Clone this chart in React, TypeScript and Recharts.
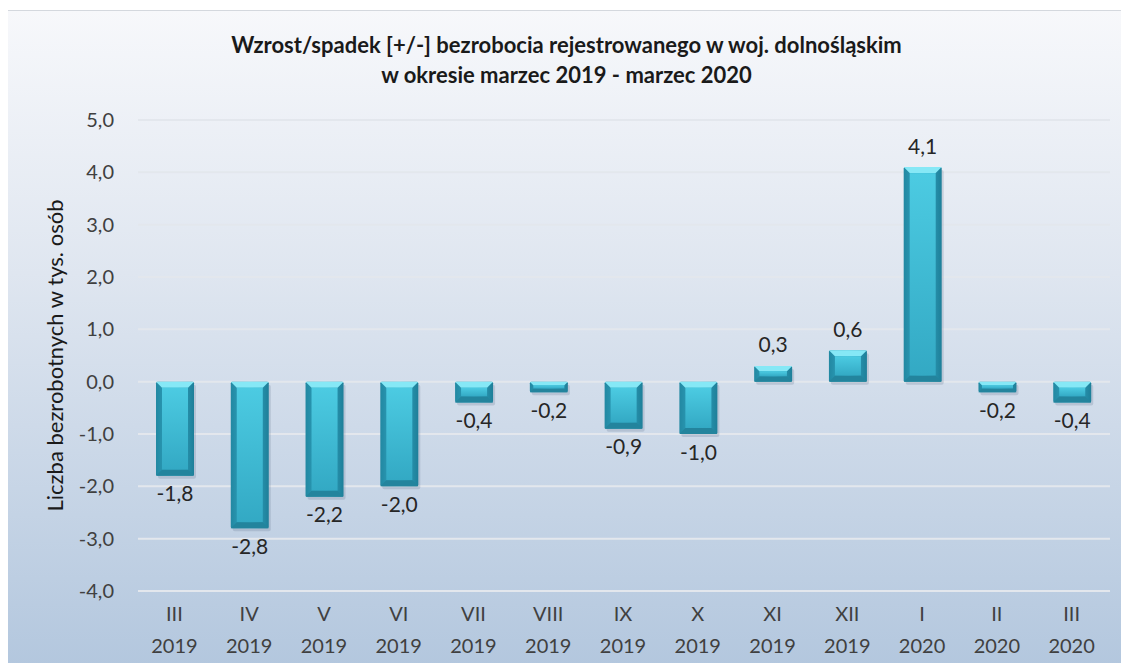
import { BarChart, Bar, XAxis, YAxis, CartesianGrid, LabelList } from "recharts";

// months (roman numerals) and years for the two-line category labels
const months = ["III", "IV", "V", "VI", "VII", "VIII", "IX", "X", "XI", "XII", "I", "II", "III"];
const years = ["2019", "2019", "2019", "2019", "2019", "2019", "2019", "2019", "2019", "2019", "2020", "2020", "2020"];
// change in thousands of people
const changes = [-1.8, -2.8, -2.2, -2.0, -0.4, -0.2, -0.9, -1.0, 0.3, 0.6, 4.1, -0.2, -0.4];
const yTicks = [-4, -3, -2, -1, 0, 1, 2, 3, 4, 5];

const data = changes.map((v, i) => ({ key: i, month: months[i], year: years[i], value: v }));

const FONT = "Lato, 'Open Sans', sans-serif";
const fmt = (v: number) => v.toFixed(1).replace(".", ",");

const BevelBar = (props: any) => {
    const { x, y, width, height } = props;
    const top = Math.min(y, y + height);
    const h = Math.abs(height);
    if (!h) return null;
    const b = Math.min(6, h / 3);
    return (
        <g>
            <rect x={x + 2} y={top + 3} width={width} height={h} fill="#5a6e88" opacity={0.22} rx={2} />
            <rect x={x} y={top} width={width} height={h} fill="url(#barSide)" rx={1.5} />
            <path
                d={`M${x},${top} L${x + width},${top} L${x + width - b},${top + b} L${x + b},${top + b} Z`}
                fill="#86e8f6"
            />
            <rect x={x + b} y={top + b} width={width - 2 * b} height={Math.max(0, h - 2 * b)} fill="url(#barFace)" />
            <path
                d={`M${x},${top + h} L${x + width},${top + h} L${x + width - b},${top + h - b} L${x + b},${top + h - b} Z`}
                fill="#23849d"
            />
        </g>
    );
};

const ValueLabel = (props: any) => {
    const { x, y, width, height, value } = props;
    const top = Math.min(y, y + height);
    const bottom = Math.max(y, y + height);
    const ty = value >= 0 ? top - 22 : bottom + 17;
    return (
        <text
            x={x + width / 2}
            y={ty}
            textAnchor="middle"
            dominantBaseline="central"
            fontFamily={FONT}
            fontSize={21}
            fill="#262626"
        >
            {fmt(value)}
        </text>
    );
};

const CategoryTick = (props: any) => {
    const { x, y, payload } = props;
    const d = data[payload.value];
    return (
        <g transform={`translate(${x},${y})`}>
            <text textAnchor="middle" fontFamily={FONT} fontSize={20} fill="#404040">
                <tspan x={-1} y={22}>{d.month}</tspan>
                <tspan x={-1} y={54}>{d.year}</tspan>
            </text>
        </g>
    );
};

export default function App() {
    return (
        <div style={{ margin: -8, width: 1129, height: 671, background: "#ffffff", position: "relative", overflow: "hidden" }}>
            <div
                style={{
                    position: "absolute",
                    left: 4,
                    top: 10,
                    width: 1123,
                    height: 656,
                    border: "1px solid #d4d8de",
                    background: "linear-gradient(to bottom, #f7f8fb 0%, #dfe6f0 40%, #b3c7de 100%)",
                }}
            >
                <div
                    style={{
                        position: "absolute",
                        left: 0,
                        top: 19,
                        width: "100%",
                        textAlign: "center",
                        fontFamily: FONT,
                        fontWeight: 700,
                        fontSize: 22,
                        lineHeight: "30px",
                        color: "#1a1a1a",
                    }}
                >
                    Wzrost/spadek [+/-] bezrobocia rejestrowanego w woj. dolnośląskim
                    <br />
                    w okresie marzec 2019 - marzec 2020
                </div>
                <div style={{ position: "absolute", left: 0, top: 0 }}>
                    <BarChart
                        width={1123}
                        height={656}
                        data={data}
                        margin={{ top: 109, right: 18, left: 0, bottom: 0 }}
                        barSize={38}
                    >
                        <defs>
                            <linearGradient id="barSide" x1="0" y1="0" x2="1" y2="0">
                                <stop offset="0%" stopColor="#2288a2" />
                                <stop offset="50%" stopColor="#34acc8" />
                                <stop offset="100%" stopColor="#1e7f99" />
                            </linearGradient>
                            <linearGradient id="barFace" x1="0" y1="0" x2="0" y2="1">
                                <stop offset="0%" stopColor="#4ccbe2" />
                                <stop offset="100%" stopColor="#33a9c4" />
                            </linearGradient>
                        </defs>
                        <CartesianGrid vertical={false} stroke="#e3e7ed" strokeWidth={2} />
                        <XAxis
                            dataKey="key"
                            type="category"
                            axisLine={false}
                            tickLine={false}
                            tick={<CategoryTick />}
                            height={76}
                            interval={0}
                        />
                        <YAxis
                            type="number"
                            domain={[-4, 5]}
                            ticks={yTicks}
                            tickFormatter={fmt}
                            axisLine={false}
                            tickLine={false}
                            tickSize={0}
                            tickMargin={24}
                            width={133}
                            tick={{ fontFamily: FONT, fontSize: 20, fill: "#404040" }}
                            label={{
                                value: "Liczba bezrobotnych w tys. osób",
                                angle: -90,
                                position: "insideLeft",
                                offset: 50,
                                style: { fontFamily: FONT, fontSize: 22, fill: "#1a1a1a", textAnchor: "middle" },
                            }}
                        />
                        <Bar dataKey="value" shape={<BevelBar />} isAnimationActive={false}>
                            <LabelList dataKey="value" content={<ValueLabel />} />
                        </Bar>
                    </BarChart>
                </div>
            </div>
        </div>
    );
}
